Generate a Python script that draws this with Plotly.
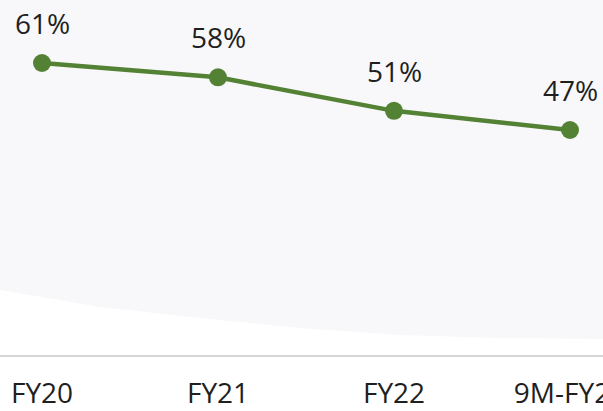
import plotly.graph_objects as go

# Share of revenue by fiscal period
periods = ["FY20", "FY21", "FY22", "9M-FY23"]
share_pct = [61, 58, 51, 47]

LINE_GREEN = "#548235"
TEXT_DARK = "#1f1f1f"
FONT = "Open Sans"

fig = go.Figure()

fig.add_trace(go.Scatter(
    x=list(range(len(periods))),
    y=share_pct,
    mode="lines+markers",
    line=dict(color=LINE_GREEN, width=4.5),
    marker=dict(color=LINE_GREEN, size=18),
    hoverinfo="skip",
    showlegend=False,
))

# Value labels above each point
for i, v in enumerate(share_pct):
    fig.add_annotation(
        x=i, y=v, text=f"{v}%", showarrow=False,
        xanchor="center", yanchor="bottom", yshift=19,
        font=dict(family=FONT, size=28, color=TEXT_DARK),
    )

# Soft grey backdrop with a curved lower edge
edge = [(0, 290), (100, 307), (200, 318), (300, 328), (400, 335), (500, 338), (603, 339)]
plot_h = 355.0
path = "M 0,1 L 1,1 " + " ".join(
    f"L {x/603:.4f},{(plot_h - y)/plot_h:.4f}" for x, y in reversed(edge)) + " Z"
fig.add_shape(type="path", path=path, xref="paper", yref="paper",
              fillcolor="#f8f8fa", line=dict(width=0), layer="below")

fig.update_layout(
    width=603, height=411,
    margin=dict(l=0, r=0, t=0, b=56, autoexpand=False),
    paper_bgcolor="white",
    plot_bgcolor="white",
    font=dict(family=FONT, color=TEXT_DARK),
    xaxis=dict(
        range=[-42/176, (603-42)/176],
        tickmode="array",
        tickvals=list(range(len(periods))),
        ticktext=periods,
        ticklabeloverflow="allow",
        automargin=False,
        showgrid=False, zeroline=False,
        showline=True, linecolor="#d6d6d6", linewidth=1.5,
        ticks="outside", ticklen=13, tickcolor="rgba(0,0,0,0)",
        tickfont=dict(family=FONT, size=28, color=TEXT_DARK),
        fixedrange=True,
    ),
    yaxis=dict(
        range=[0, 355/4.787],
        visible=False, showgrid=False, zeroline=False,
        automargin=False,
        fixedrange=True,
    ),
)

fig.write_html("out.html")
